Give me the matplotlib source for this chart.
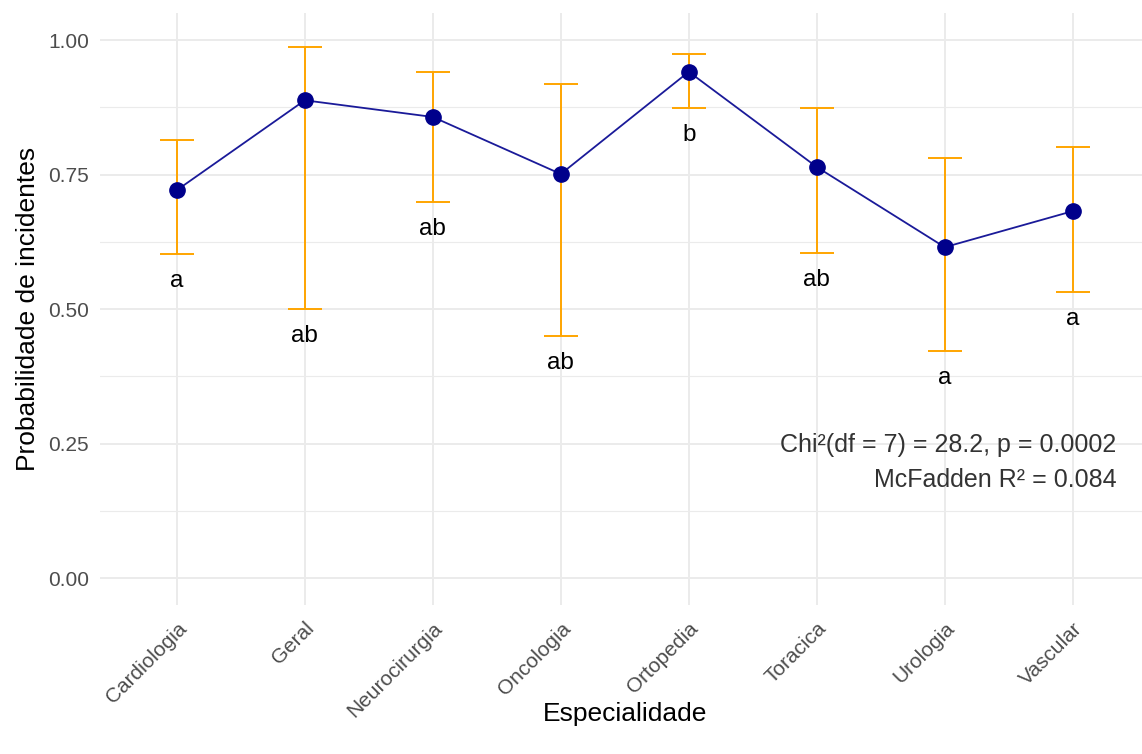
import numpy as np
import matplotlib
matplotlib.use("Agg")
import matplotlib.pyplot as plt

# probabilidade estimada por especialidade, com IC 95% e letras de comparacao
especialidades = ["Cardiologia", "Geral", "Neurocirurgia", "Oncologia",
                  "Ortopedia", "Toracica", "Urologia", "Vascular"]
prob = [0.721, 0.888, 0.857, 0.751, 0.941, 0.764, 0.615, 0.682]
ic_inf = [0.602, 0.500, 0.699, 0.450, 0.874, 0.604, 0.422, 0.532]
ic_sup = [0.814, 0.987, 0.941, 0.918, 0.974, 0.874, 0.781, 0.801]
letras = ["a", "ab", "ab", "ab", "b", "ab", "a", "a"]
yticks = [0.00, 0.25, 0.50, 0.75, 1.00]
texto_modelo = "Chi²(df = 7) = 28.2, p = 0.0002\nMcFadden R² = 0.084"

plt.rcParams['font.family'] = ['Liberation Sans', 'DejaVu Sans']

def main():
    fig = plt.figure(figsize=(11.42, 7.54), dpi=100)
    ax = fig.add_axes([0.0876, 0.1976, 0.919, 0.785])

    x = np.arange(1, len(especialidades) + 1)
    prob_a = np.array(prob)
    inf_a = np.array(ic_inf)
    sup_a = np.array(ic_sup)

    # grade estilo theme_minimal
    for yv in np.arange(0.125, 1.0, 0.25):
        ax.axhline(yv, color="#EBEBEB", lw=0.8, zorder=0)
    for yv in yticks:
        ax.axhline(yv, color="#EBEBEB", lw=1.4, zorder=0)
    for xv in x:
        ax.axvline(xv, color="#EBEBEB", lw=1.4, zorder=0)

    ax.errorbar(x, prob_a, yerr=[prob_a - inf_a, sup_a - prob_a], fmt="none",
                ecolor="#FFA500", elinewidth=1.4, capsize=12.5, capthick=1.4, zorder=2)
    ax.plot(x, prob_a, color="#1A1A99", lw=1.3, zorder=3)
    ax.plot(x, prob_a, "o", color="#00008B", ms=11, zorder=4)

    for xi, yi, lt in zip(x, inf_a, letras):
        ax.text(xi, yi - 0.05, lt, ha="center", va="center", fontsize=17.5, color="black")

    ax.text(8.34, 0.2145, texto_modelo, ha="right", va="center", fontsize=18,
            color="#333333", linespacing=1.55)

    ax.set_xlim(0.4, 8.6)
    ax.set_ylim(-0.05, 1.05)
    ax.set_yticks(yticks)
    ax.set_yticklabels([f"{v:.2f}" for v in yticks])
    ax.set_xticks(x)
    ax.set_xticklabels(especialidades, rotation=45, ha="right", va="top",
                       rotation_mode="anchor")
    ax.tick_params(axis="both", length=0, labelsize=15, labelcolor="#4D4D4D")
    ax.tick_params(axis="y", pad=8)
    ax.tick_params(axis="x", pad=10)
    for s in ax.spines.values():
        s.set_visible(False)

    ax.set_xlabel("Especialidade", fontsize=19, va="center")
    ax.xaxis.set_label_coords(0.5, -0.184)
    ax.set_ylabel("Probabilidade de incidentes", fontsize=19, labelpad=6)

    fig.savefig("out.png", dpi=100)

main()
